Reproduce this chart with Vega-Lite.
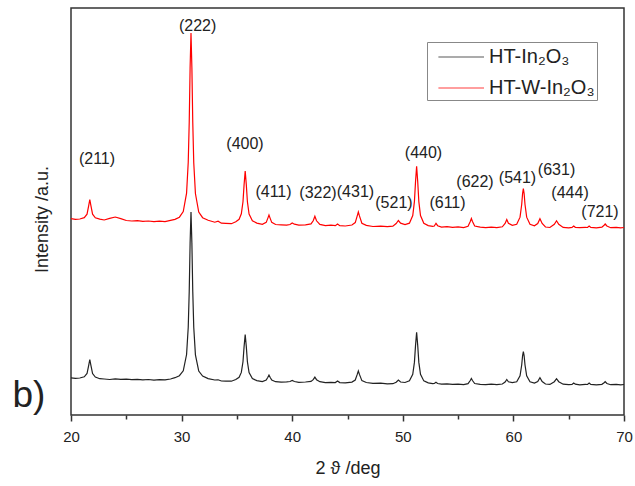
{
  "$schema": "https://vega.github.io/schema/vega-lite/v6.json",
  "width": 553,
  "height": 407,
  "autosize": "none",
  "padding": {"left": 71, "top": 8, "right": 11, "bottom": 71},
  "config": {
    "font": "Liberation Sans",
    "view": {"stroke": "#333", "strokeWidth": 1.5},
    "legend": {"symbolOpacity": 0.5}
  },
  "data": {
    "values": [
      {"x": 20.0, "a": 37.2, "b": 196.3},
      {"x": 20.4, "a": 36.6, "b": 195.6},
      {"x": 20.8, "a": 37.0, "b": 196.0},
      {"x": 21.2, "a": 38.2, "b": 197.3},
      {"x": 21.45, "a": 41.5, "b": 200.8},
      {"x": 21.6, "a": 49.6, "b": 209.3},
      {"x": 21.7, "a": 55.5, "b": 215.5},
      {"x": 21.8, "a": 49.6, "b": 209.3},
      {"x": 21.95, "a": 41.4, "b": 200.8},
      {"x": 22.2, "a": 37.9, "b": 197.2},
      {"x": 22.6, "a": 36.3, "b": 195.9},
      {"x": 23.0, "a": 36.0, "b": 195.0},
      {"x": 23.5, "a": 35.5, "b": 196.6},
      {"x": 24.0, "a": 36.2, "b": 198.0},
      {"x": 24.5, "a": 35.6, "b": 196.4},
      {"x": 25.0, "a": 35.9, "b": 194.5},
      {"x": 25.5, "a": 35.3, "b": 194.0},
      {"x": 26.0, "a": 35.6, "b": 194.4},
      {"x": 26.5, "a": 35.1, "b": 193.6},
      {"x": 27.0, "a": 35.5, "b": 194.0},
      {"x": 27.5, "a": 34.8, "b": 193.3},
      {"x": 28.0, "a": 35.4, "b": 193.8},
      {"x": 28.5, "a": 35.2, "b": 193.4},
      {"x": 29.0, "a": 36.0, "b": 194.6},
      {"x": 29.4, "a": 37.3, "b": 195.6},
      {"x": 29.8, "a": 39.3, "b": 197.8},
      {"x": 30.15, "a": 44.2, "b": 203.5},
      {"x": 30.45, "a": 60.5, "b": 221.9},
      {"x": 30.6, "a": 87.8, "b": 252.7},
      {"x": 30.69, "a": 123.7, "b": 293.0},
      {"x": 30.77, "a": 172.3, "b": 347.8},
      {"x": 30.85, "a": 203.0, "b": 382.0},
      {"x": 30.93, "a": 172.0, "b": 347.5},
      {"x": 31.01, "a": 123.5, "b": 292.5},
      {"x": 31.1, "a": 87.5, "b": 252.0},
      {"x": 31.25, "a": 60.2, "b": 221.5},
      {"x": 31.55, "a": 44.0, "b": 203.0},
      {"x": 31.9, "a": 39.0, "b": 197.3},
      {"x": 32.4, "a": 36.4, "b": 194.8},
      {"x": 33.0, "a": 35.0, "b": 192.8},
      {"x": 33.3, "a": 35.2, "b": 193.8},
      {"x": 33.6, "a": 34.0, "b": 191.8},
      {"x": 34.0, "a": 33.9, "b": 191.6},
      {"x": 34.5, "a": 33.8, "b": 191.3},
      {"x": 34.9, "a": 35.5, "b": 193.2},
      {"x": 35.2, "a": 37.7, "b": 195.7},
      {"x": 35.4, "a": 42.6, "b": 201.2},
      {"x": 35.55, "a": 53.2, "b": 213.2},
      {"x": 35.65, "a": 68.4, "b": 230.4},
      {"x": 35.75, "a": 80.5, "b": 244.0},
      {"x": 35.85, "a": 68.4, "b": 230.4},
      {"x": 35.95, "a": 53.2, "b": 213.2},
      {"x": 36.1, "a": 42.5, "b": 201.0},
      {"x": 36.4, "a": 36.4, "b": 194.2},
      {"x": 36.8, "a": 34.4, "b": 191.9},
      {"x": 37.3, "a": 33.4, "b": 190.6},
      {"x": 37.65, "a": 34.9, "b": 192.6},
      {"x": 37.8, "a": 37.8, "b": 196.9},
      {"x": 37.9, "a": 40.0, "b": 200.0},
      {"x": 38.0, "a": 37.8, "b": 196.9},
      {"x": 38.15, "a": 34.9, "b": 192.6},
      {"x": 38.5, "a": 33.3, "b": 190.5},
      {"x": 39.0, "a": 32.8, "b": 190.2},
      {"x": 39.5, "a": 33.1, "b": 189.8},
      {"x": 39.8, "a": 33.5, "b": 190.5},
      {"x": 40.0, "a": 34.5, "b": 192.0},
      {"x": 40.2, "a": 33.5, "b": 190.8},
      {"x": 40.6, "a": 32.7, "b": 189.9},
      {"x": 41.2, "a": 33.0, "b": 190.1},
      {"x": 41.7, "a": 33.6, "b": 191.1},
      {"x": 41.9, "a": 35.3, "b": 194.2},
      {"x": 42.05, "a": 37.8, "b": 198.7},
      {"x": 42.2, "a": 35.3, "b": 194.2},
      {"x": 42.5, "a": 33.3, "b": 190.6},
      {"x": 43.0, "a": 32.4, "b": 189.4},
      {"x": 43.5, "a": 32.7, "b": 189.8},
      {"x": 43.9, "a": 32.4, "b": 189.3},
      {"x": 44.1, "a": 34.0, "b": 191.0},
      {"x": 44.3, "a": 32.4, "b": 189.3},
      {"x": 44.8, "a": 32.1, "b": 189.0},
      {"x": 45.4, "a": 32.9, "b": 190.0},
      {"x": 45.7, "a": 35.0, "b": 192.4},
      {"x": 45.88, "a": 40.6, "b": 199.1},
      {"x": 45.98, "a": 44.0, "b": 203.0},
      {"x": 46.08, "a": 40.6, "b": 199.1},
      {"x": 46.3, "a": 34.4, "b": 191.8},
      {"x": 46.7, "a": 32.5, "b": 189.6},
      {"x": 47.3, "a": 31.6, "b": 188.5},
      {"x": 48.0, "a": 31.8, "b": 188.9},
      {"x": 48.6, "a": 31.2, "b": 188.3},
      {"x": 49.1, "a": 31.3, "b": 188.8},
      {"x": 49.4, "a": 32.8, "b": 191.5},
      {"x": 49.6, "a": 35.0, "b": 194.5},
      {"x": 49.8, "a": 33.0, "b": 191.8},
      {"x": 50.2, "a": 32.5, "b": 190.5},
      {"x": 50.6, "a": 34.2, "b": 191.8},
      {"x": 50.9, "a": 40.7, "b": 199.5},
      {"x": 51.05, "a": 52.6, "b": 213.4},
      {"x": 51.15, "a": 69.4, "b": 233.1},
      {"x": 51.25, "a": 82.8, "b": 248.8},
      {"x": 51.35, "a": 69.4, "b": 233.1},
      {"x": 51.45, "a": 52.6, "b": 213.4},
      {"x": 51.6, "a": 40.7, "b": 199.5},
      {"x": 51.9, "a": 34.1, "b": 191.7},
      {"x": 52.3, "a": 32.1, "b": 189.4},
      {"x": 52.7, "a": 31.4, "b": 188.6},
      {"x": 52.85, "a": 31.5, "b": 189.0},
      {"x": 53.0, "a": 32.7, "b": 191.7},
      {"x": 53.15, "a": 31.5, "b": 189.3},
      {"x": 53.5, "a": 30.8, "b": 187.9},
      {"x": 54.0, "a": 31.1, "b": 188.3},
      {"x": 54.5, "a": 30.6, "b": 187.7},
      {"x": 55.0, "a": 30.9, "b": 188.1},
      {"x": 55.5, "a": 30.4, "b": 187.4},
      {"x": 55.9, "a": 31.3, "b": 188.8},
      {"x": 56.1, "a": 34.5, "b": 193.5},
      {"x": 56.2, "a": 36.5, "b": 196.5},
      {"x": 56.3, "a": 34.5, "b": 193.5},
      {"x": 56.5, "a": 31.5, "b": 189.0},
      {"x": 57.0, "a": 30.7, "b": 187.8},
      {"x": 57.5, "a": 30.3, "b": 187.3},
      {"x": 58.0, "a": 30.8, "b": 187.9},
      {"x": 58.5, "a": 30.4, "b": 187.4},
      {"x": 59.0, "a": 31.0, "b": 188.2},
      {"x": 59.25, "a": 33.0, "b": 191.6},
      {"x": 59.4, "a": 35.5, "b": 195.5},
      {"x": 59.55, "a": 33.2, "b": 191.8},
      {"x": 59.9, "a": 32.3, "b": 189.7},
      {"x": 60.3, "a": 33.2, "b": 190.7},
      {"x": 60.6, "a": 39.2, "b": 197.8},
      {"x": 60.75, "a": 50.0, "b": 210.5},
      {"x": 60.83, "a": 59.2, "b": 221.4},
      {"x": 60.9, "a": 63.5, "b": 226.5},
      {"x": 60.97, "a": 59.2, "b": 221.4},
      {"x": 61.05, "a": 50.0, "b": 210.5},
      {"x": 61.2, "a": 39.2, "b": 197.8},
      {"x": 61.5, "a": 33.2, "b": 190.7},
      {"x": 61.9, "a": 32.0, "b": 189.2},
      {"x": 62.2, "a": 33.5, "b": 191.5},
      {"x": 62.4, "a": 37.4, "b": 196.3},
      {"x": 62.6, "a": 33.5, "b": 191.5},
      {"x": 62.9, "a": 31.0, "b": 188.0},
      {"x": 63.3, "a": 30.6, "b": 187.5},
      {"x": 63.7, "a": 33.3, "b": 190.7},
      {"x": 63.9, "a": 36.3, "b": 194.2},
      {"x": 64.1, "a": 33.3, "b": 190.7},
      {"x": 64.5, "a": 30.8, "b": 187.6},
      {"x": 65.0, "a": 30.3, "b": 187.2},
      {"x": 65.3, "a": 30.6, "b": 187.6},
      {"x": 65.45, "a": 32.0, "b": 189.0},
      {"x": 65.6, "a": 30.8, "b": 187.7},
      {"x": 66.0, "a": 30.2, "b": 187.3},
      {"x": 66.5, "a": 30.6, "b": 187.6},
      {"x": 66.7, "a": 30.5, "b": 187.5},
      {"x": 66.85, "a": 32.0, "b": 189.0},
      {"x": 67.0, "a": 30.6, "b": 187.6},
      {"x": 67.5, "a": 30.2, "b": 187.2},
      {"x": 68.0, "a": 30.7, "b": 187.8},
      {"x": 68.2, "a": 32.2, "b": 189.8},
      {"x": 68.3, "a": 33.3, "b": 191.0},
      {"x": 68.45, "a": 31.5, "b": 189.0},
      {"x": 68.8, "a": 30.3, "b": 187.3},
      {"x": 69.3, "a": 30.6, "b": 187.6},
      {"x": 69.7, "a": 30.2, "b": 187.2},
      {"x": 70.0, "a": 30.5, "b": 187.5}
    ]
  },
  "layer": [
    {
      "mark": {"type": "line", "strokeWidth": 1.2, "clip": true},
      "encoding": {
        "x": {
          "field": "x",
          "type": "quantitative",
          "title": "2 ϑ /deg",
          "scale": {"domain": [20, 70], "nice": false, "zero": false},
          "axis": {
            "values": [20, 25, 30, 35, 40, 45, 50, 55, 60, 65, 70],
            "labelExpr": "datum.value % 10 == 0 ? datum.label : ''",
            "domain": false,
            "grid": false,
            "tickColor": "#333",
            "tickWidth": 1.5,
            "tickSize": {"condition": {"test": "datum.value % 10 == 0", "value": 6}, "value": 4},
            "labelFontSize": 15,
            "labelColor": "#222",
            "labelPadding": 8,
            "labelFlush": false,
            "titleFontSize": 18,
            "titleFontWeight": "normal",
            "titleColor": "#222",
            "titlePadding": 15
          }
        },
        "y": {
          "field": "a",
          "type": "quantitative",
          "title": "Intensity /a.u.",
          "scale": {"domain": [0, 407], "nice": false},
          "axis": {
            "domain": false,
            "ticks": false,
            "labels": false,
            "grid": false,
            "titleFontSize": 18,
            "titleFontWeight": "normal",
            "titleColor": "#222",
            "titlePadding": 20,
            "titleY": 211
          }
        },
        "color": {
          "datum": "HT-In₂O₃",
          "scale": {"domain": ["HT-In₂O₃", "HT-W-In₂O₃"], "range": ["#222222", "#ff0000"]},
          "legend": {
            "title": null,
            "orient": "none",
            "legendX": 356,
            "legendY": 34,
            "strokeColor": "#888",
            "padding": 2,
            "symbolType": "M-0.3,0H3.5",
            "symbolSize": 576,
            "symbolStrokeWidth": 1.3,
            "labelFontSize": 20,
            "labelColor": "#222",
            "labelOffset": 34,
            "rowPadding": 8
          }
        }
      }
    },
    {
      "mark": {"type": "line", "strokeWidth": 1.2, "clip": true},
      "encoding": {
        "x": {"field": "x", "type": "quantitative", "title": "2 ϑ /deg"},
        "y": {"field": "b", "type": "quantitative", "title": "Intensity /a.u."},
        "color": {"datum": "HT-W-In₂O₃"}
      }
    },
    {
      "data": {
        "values": [
          {"t": "(211)", "x": 22.35, "y": 256},
          {"t": "(222)", "x": 31.45, "y": 389},
          {"t": "(400)", "x": 35.73, "y": 271},
          {"t": "(411)", "x": 38.31, "y": 223},
          {"t": "(322)", "x": 42.33, "y": 222},
          {"t": "(431)", "x": 45.72, "y": 223},
          {"t": "(521)", "x": 49.2, "y": 212},
          {"t": "(440)", "x": 51.87, "y": 262},
          {"t": "(611)", "x": 54.04, "y": 212},
          {"t": "(622)", "x": 56.53, "y": 233},
          {"t": "(541)", "x": 60.37, "y": 237},
          {"t": "(631)", "x": 63.9, "y": 245},
          {"t": "(444)", "x": 65.12, "y": 222},
          {"t": "(721)", "x": 67.83, "y": 203}
        ]
      },
      "mark": {"type": "text", "fontSize": 16, "color": "#222", "align": "center", "baseline": "middle"},
      "encoding": {
        "x": {"field": "x", "type": "quantitative", "title": "2 ϑ /deg"},
        "y": {"field": "y", "type": "quantitative", "title": "Intensity /a.u."},
        "text": {"field": "t"}
      }
    },
    {
      "data": {"values": [{"t": "b)", "x": 16.2, "y": 19}]},
      "mark": {"type": "text", "fontSize": 37, "color": "#222", "align": "center", "baseline": "middle", "clip": false},
      "encoding": {
        "x": {"field": "x", "type": "quantitative", "title": "2 ϑ /deg"},
        "y": {"field": "y", "type": "quantitative", "title": "Intensity /a.u."},
        "text": {"field": "t"}
      }
    }
  ]
}
